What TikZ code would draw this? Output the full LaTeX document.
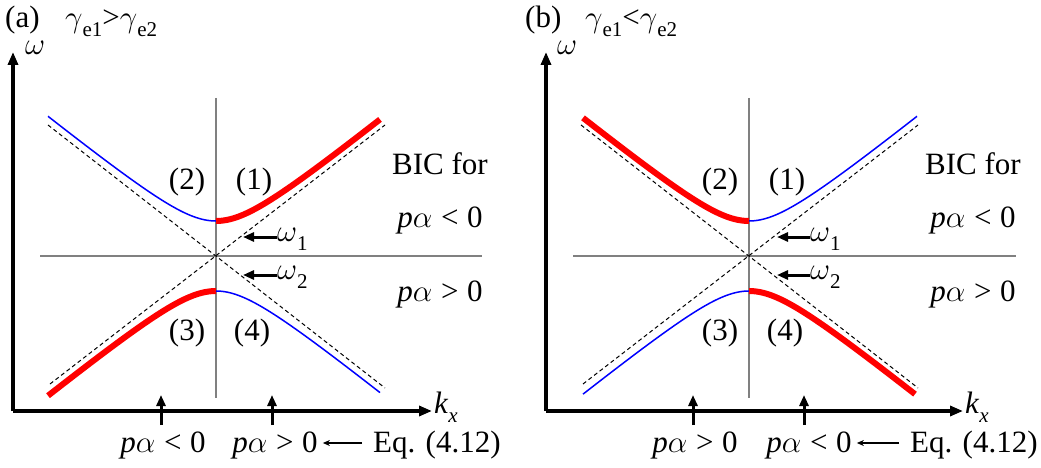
\RequirePackage{fix-cm}
\documentclass[tikz,border=0pt]{standalone}
\usepackage{fontspec}
\setmainfont{Liberation Serif}
\usetikzlibrary{arrows.meta}
\newcommand{\lowsub}[1]{\raisebox{-0.28em}{\fontsize{21}{21}\selectfont #1}}
\newcommand{\lt}{\hspace{0.28em}<\hspace{0.28em}0}
\newcommand{\gtr}{\hspace{0.28em}>\hspace{0.28em}0}
\newcommand{\pa}{\textit{p}$\alpha$}
\newcommand{\om}{$\omega$}
\newcommand{\gam}{$\gamma$}
\tikzset{
  axis/.style={line width=3.2pt, -{Triangle[length=13pt,width=10pt]}},
  guide/.style={line width=1.3pt, draw=gray},
  asym/.style={line width=1pt, dash pattern=on 4pt off 3pt},
  blueb/.style={line width=1.5pt, draw=blue},
  redb/.style={line width=6pt, draw=red},
  uparr/.style={line width=3pt, -{Triangle[length=11pt,width=9pt]}},
  omarr/.style={line width=3pt, -{Triangle[length=11pt,width=9pt]}},
  eqarr/.style={line width=1.3pt, -{Stealth[length=7pt,width=6pt]}},
  lab/.style={inner sep=0pt},
}
\begin{document}
\begin{tikzpicture}[x=1pt,y=-1pt,font=\fontsize{31}{37}\selectfont]
\useasboundingbox (0,0) rectangle (1041,468);
% titles
\node[lab,anchor=base west] (ta) at (5,28) {(a)};
\node[lab,anchor=base west] (ga) at (65,28) {\gam\lowsub{e1}>\gam\lowsub{e2}};
\node[lab,anchor=base west] (tb) at (525,28) {(b)};
\node[lab,anchor=base west] (gb) at (585,28) {\gam\lowsub{e1}<\gam\lowsub{e2}};
% ---------------- panel (a)
\begin{scope}[shift={(216,256)}]
  \coordinate (ao) at (-203,155);
  \coordinate (ay) at (-203,-204);
  \coordinate (ax) at (216,155);
  \draw[guide] (0,-158) coordinate (avt) -- (0,142) coordinate (avb);
  \draw[guide] (-176,0) coordinate (ahl) -- (266,0) coordinate (ahr);
  \draw[asym] (-168,-131) coordinate (ad1) -- (169,132) coordinate (ad2);
  \draw[asym] (-166,128) coordinate (ad3) -- (169,-131) coordinate (ad4);
  \draw[blueb] plot[domain=-168:0,samples=60] (\x,{-10*sqrt(3.5*3.5+(0.0805*\x)^2)});
  \draw[redb] plot[domain=0:164,samples=60] (\x,{-10*sqrt(3.5*3.5+(0.0805*\x)^2)});
  \draw[redb] plot[domain=-168:0,samples=60] (\x,{10*sqrt(3.5*3.5+(0.0805*\x)^2)});
  \draw[blueb] plot[domain=0:164,samples=60] (\x,{10*sqrt(3.5*3.5+(0.0805*\x)^2)});
  \draw[axis] (ao) -- (ay);
  \draw[axis] (ao) -- (ax);
  \node[lab,anchor=west] (aw) at (-191,-208) {\om};
  \node[lab,anchor=west] (ak) at (218,151) {\textit{k}\lowsub{\textit{x}}};
  \node[lab] (a2) at (-29,-74) {(2)};
  \node[lab] (a1) at (38,-74) {(1)};
  \node[lab] (a3) at (-29,77) {(3)};
  \node[lab] (a4) at (36,77) {(4)};
  \node[lab,anchor=west] (aw1) at (61,-17) {\om\lowsub{1}};
  \node[lab,anchor=west] (aw2) at (61,21) {\om\lowsub{2}};
  \coordinate (aw1t) at (27,-19);
  \coordinate (aw2t) at (27,19);
  \draw[omarr] (aw1.west|-aw1t) -- (aw1t);
  \draw[omarr] (aw2.west|-aw2t) -- (aw2t);
  \node[lab,anchor=base] (abic) at (224,-81) {BIC for};
  \node[lab,anchor=base] (aneg) at (224,-29) {\pa\lt};
  \node[lab,anchor=base] (apos) at (224,45) {\pa\gtr};
  \node[lab,anchor=base] (bl1) at (-53,196) {\pa\lt};
  \node[lab,anchor=base] (bl2) at (59,196) {\pa\gtr};
  \node[lab,anchor=base west] (aeq) at (157,196) {Eq. (4.12)};
  \coordinate (au1) at (-55,169);
  \coordinate (au2) at (56,169);
  \draw[uparr] (au1) -- (-55,139);
  \draw[uparr] (au2) -- (56,139);
  \draw[eqarr,shorten <=11pt,shorten >=5pt] ([yshift=9pt]aeq.base west) -- ([yshift=9pt]bl2.base east);
\end{scope}
% ---------------- panel (b)
\begin{scope}[shift={(749,256)}]
  \coordinate (bo) at (-203,155);
  \coordinate (by) at (-203,-204);
  \coordinate (bx) at (214,155);
  \draw[guide] (0,-158) coordinate (bvt) -- (0,142) coordinate (bvb);
  \draw[guide] (-176,0) coordinate (bhl) -- (267,0) coordinate (bhr);
  \draw[asym] (-168,-131) coordinate (bd1) -- (169,132) coordinate (bd2);
  \draw[asym] (-166,128) coordinate (bd3) -- (169,-131) coordinate (bd4);
  \draw[redb] plot[domain=-166:0,samples=60] (\x,{-10*sqrt(3.5*3.5+(0.0805*\x)^2)});
  \draw[blueb] plot[domain=0:168,samples=60] (\x,{-10*sqrt(3.5*3.5+(0.0805*\x)^2)});
  \draw[blueb] plot[domain=-166:0,samples=60] (\x,{10*sqrt(3.5*3.5+(0.0805*\x)^2)});
  \draw[redb] plot[domain=0:166,samples=60] (\x,{10*sqrt(3.5*3.5+(0.0805*\x)^2)});
  \draw[axis] (bo) -- (by);
  \draw[axis] (bo) -- (bx);
  \node[lab,anchor=west] (bw) at (-192,-208) {\om};
  \node[lab,anchor=west] (bk) at (216,151) {\textit{k}\lowsub{\textit{x}}};
  \node[lab] (b2) at (-29,-74) {(2)};
  \node[lab] (b1) at (38,-74) {(1)};
  \node[lab] (b3) at (-29,77) {(3)};
  \node[lab] (b4) at (36,77) {(4)};
  \node[lab,anchor=west] (bw1) at (61,-17) {\om\lowsub{1}};
  \node[lab,anchor=west] (bw2) at (61,21) {\om\lowsub{2}};
  \coordinate (bw1t) at (28,-19);
  \coordinate (bw2t) at (28,19);
  \draw[omarr] (bw1.west|-bw1t) -- (bw1t);
  \draw[omarr] (bw2.west|-bw2t) -- (bw2t);
  \node[lab,anchor=base] (bbic) at (224,-81) {BIC for};
  \node[lab,anchor=base] (bneg) at (224,-29) {\pa\lt};
  \node[lab,anchor=base] (bpos) at (224,45) {\pa\gtr};
  \node[lab,anchor=base] (cl1) at (-54,196) {\pa\gtr};
  \node[lab,anchor=base] (cl2) at (60,196) {\pa\lt};
  \node[lab,anchor=base west] (beq) at (161,196) {Eq. (4.12)};
  \coordinate (bu1) at (-56,169);
  \coordinate (bu2) at (55,169);
  \draw[uparr] (bu1) -- (-56,139);
  \draw[uparr] (bu2) -- (55,139);
  \draw[eqarr,shorten <=11pt,shorten >=5pt] ([yshift=9pt]beq.base west) -- ([yshift=9pt]cl2.base east);
\end{scope}
\end{tikzpicture}
\end{document}
